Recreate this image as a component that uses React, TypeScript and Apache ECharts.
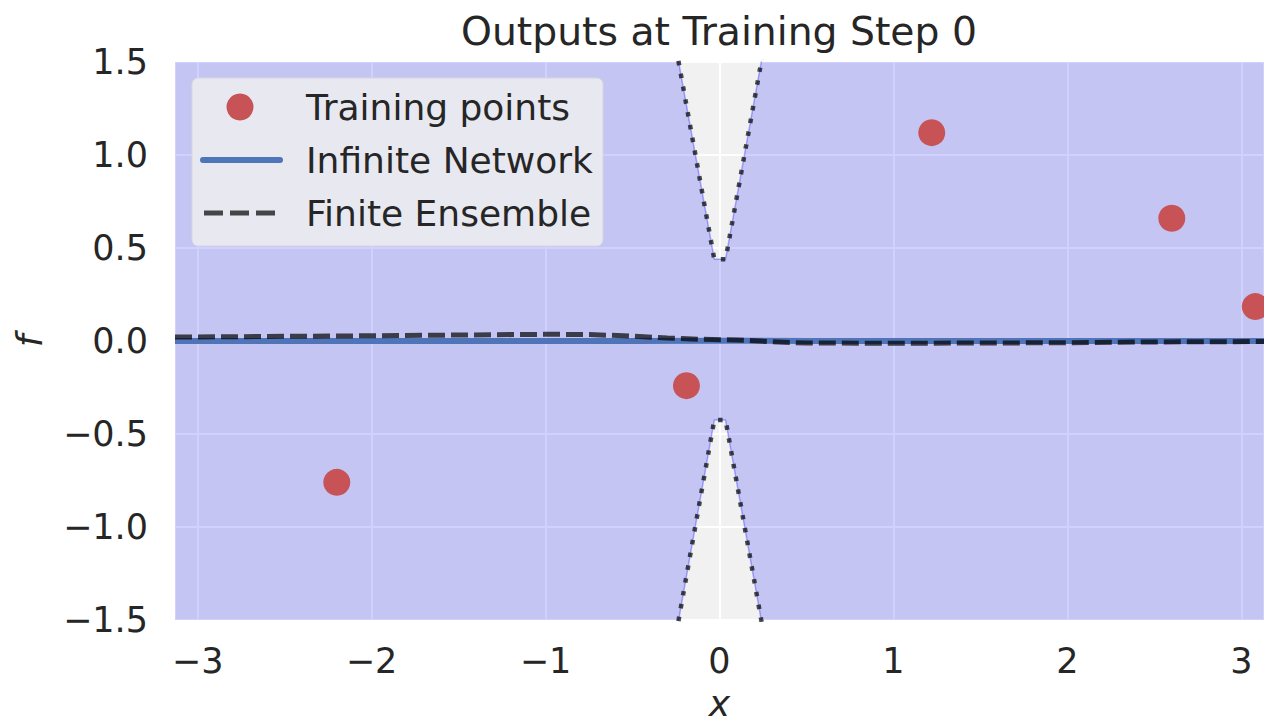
import React, { useEffect, useRef } from "react";
import * as echarts from "echarts";

// Training data
const trainX = [-2.2, -0.19, 1.22, 2.6, 3.08];
const trainY = [-0.76, -0.24, 1.12, 0.66, 0.185];

// Infinite-width network mean prediction
const infX = [-3.13, -2.5, -2.0, -1.5, -1.0, -0.5, 0.0, 0.5, 1.0, 1.5, 2.0, 2.5, 3.13];
const infY = [0.0, 0.0, 0.0, 0.0, 0.0, 0.0, 0.002, 0.0, 0.0, 0.0, 0.0, 0.0, 0.0];

// Finite ensemble mean prediction
const ensX = [-3.13, -2.5, -2.0, -1.5, -1.0, -0.75, -0.5, -0.3, -0.1, 0.1, 0.3, 0.5, 1.0, 1.5, 2.0, 2.5, 3.13];
const ensY = [0.021, 0.025, 0.028, 0.032, 0.036, 0.035, 0.026, 0.016, 0.009, 0.006, -0.004, -0.011, -0.012, -0.011, -0.009, -0.005, -0.003];

// Uncertainty band (mean ± 2σ)
const bandX = [-3.13, -1.5, -0.5, -0.235, -0.03, 0.035, 0.24, 0.5, 1.5, 3.13];
const bandUpper = [16.5, 8.1, 2.9, 1.5, 0.44, 0.44, 1.5, 2.8, 8.0, 16.5];
const bandLower = [-16.5, -8.1, -2.9, -1.5, -0.425, -0.425, -1.5, -2.8, -8.0, -16.5];

// Axis ticks
const yTicks = { min: -1.5, max: 1.5, step: 0.5 };
const xRange = { min: -3.13, max: 3.13 };

const FONT = "DejaVu Sans";
const TEXT = "#262626";
const RED = "#c75357";
const BLUE = "#5074b8";
const DARK = "rgba(0,0,0,0.7)";

const fmtMinus = (s: string) => s.replace("-", "\u2212");

export default function App() {
  const ref = useRef<HTMLDivElement>(null);

  useEffect(() => {
    if (!ref.current) return;
    const chart = echarts.init(ref.current, undefined, { renderer: "svg" });

    const pairs = (xs: number[], ys: number[]) => xs.map((x, i) => [x, ys[i]]);

    chart.setOption({
      animation: false,
      title: {
        text: "Outputs at Training Step 0",
        left: 714,
        textAlign: "center",
        top: 7,
        textStyle: { fontFamily: FONT, fontSize: 39.3, fontWeight: "normal", color: TEXT },
      },
      grid: {
        left: 175,
        top: 62,
        width: 1089,
        height: 558,
        outerBoundsMode: "none",
        containLabel: false,
        show: true,
        backgroundColor: "#f1f1f1",
        borderWidth: 0,
      },
      xAxis: {
        type: "value",
        min: xRange.min,
        max: xRange.max,
        splitNumber: 6,
        name: "x",
        nameLocation: "middle",
        nameGap: 70,
        nameTextStyle: { fontFamily: FONT, fontSize: 36, lineHeight: 26, fontStyle: "italic", color: TEXT },
        axisLine: { show: false },
        axisTick: { show: false },
        axisLabel: {
          fontFamily: FONT,
          fontSize: 35,
          color: TEXT,
          margin: 23,
          showMinLabel: false,
          showMaxLabel: false,
          formatter: (v: number) => (Number.isInteger(v) ? fmtMinus(String(v)) : ""),
        },
        splitLine: { show: true, lineStyle: { color: "#ffffff", width: 2 } },
      },
      yAxis: {
        type: "value",
        min: yTicks.min,
        max: yTicks.max,
        interval: yTicks.step,
        name: "f",
        nameLocation: "middle",
        nameGap: 128,
        nameRotate: 90,
        nameTextStyle: { fontFamily: FONT, fontSize: 36, fontStyle: "italic", color: TEXT },
        axisLine: { show: false },
        axisTick: { show: false },
        axisLabel: {
          fontFamily: FONT,
          fontSize: 35,
          color: TEXT,
          margin: 27,
          formatter: (v: number) => fmtMinus(v.toFixed(1)),
        },
        splitLine: { show: true, lineStyle: { color: "#ffffff", width: 2 } },
      },
      series: [
        {
          type: "custom",
          name: "band",
          silent: true,
          data: [[0, 0]],
          z: 1,
          renderItem: (params: any, api: any) => {
            const pts: number[][] = [];
            for (let i = 0; i < bandX.length; i++) pts.push(api.coord([bandX[i], bandUpper[i]]));
            for (let i = bandX.length - 1; i >= 0; i--) pts.push(api.coord([bandX[i], bandLower[i]]));
            const cs = params.coordSys;
            const clipped = echarts.graphic.clipPointsByRect(pts, {
              x: cs.x,
              y: cs.y,
              width: cs.width,
              height: cs.height,
            });
            return {
              type: "polygon",
              shape: { points: clipped },
              style: { fill: "rgba(0,0,255,0.18)" },
            };
          },
        },
        {
          type: "line",
          name: "upper edge",
          data: pairs(bandX, bandUpper),
          symbol: "none",
          silent: true,
          z: 2,
          lineStyle: { color: "rgba(0,0,255,0.3)", width: 1.5 },
        },
        {
          type: "line",
          name: "lower edge",
          data: pairs(bandX, bandLower),
          symbol: "none",
          silent: true,
          z: 2,
          lineStyle: { color: "rgba(0,0,255,0.3)", width: 1.5 },
        },
        {
          type: "line",
          name: "Infinite Network",
          data: pairs(infX, infY),
          symbol: "none",
          z: 3,
          lineStyle: { color: BLUE, width: 6 },
        },
        {
          type: "line",
          name: "Finite Ensemble",
          data: pairs(ensX, ensY),
          symbol: "none",
          z: 4,
          lineStyle: { color: DARK, width: 5, type: [17, 6] },
        },
        {
          type: "line",
          name: "ensemble upper",
          data: pairs(bandX, bandUpper),
          symbol: "none",
          z: 4,
          lineStyle: { color: DARK, width: 4.5, type: [4.5, 8.5] },
        },
        {
          type: "line",
          name: "ensemble lower",
          data: pairs(bandX, bandLower),
          symbol: "none",
          z: 4,
          lineStyle: { color: DARK, width: 4.5, type: [4.5, 8.5] },
        },
        {
          type: "scatter",
          name: "Training points",
          data: pairs(trainX, trainY),
          symbol: "circle",
          symbolSize: 27,
          z: 5,
          itemStyle: { color: RED, opacity: 1 },
        },
      ],
      graphic: [
        {
          type: "rect",
          z: 100,
          shape: { x: 192, y: 78, width: 411, height: 168, r: 6 },
          style: { fill: "#e8e8f0", stroke: "#d6d6e2", lineWidth: 1 },
        },
        {
          type: "circle",
          z: 101,
          shape: { cx: 240, cy: 107, r: 13.5 },
          style: { fill: RED },
        },
        {
          type: "line",
          z: 101,
          shape: { x1: 203, y1: 160, x2: 280, y2: 160 },
          style: { stroke: BLUE, lineWidth: 6, lineCap: "round" },
        },
        {
          type: "line",
          z: 101,
          shape: { x1: 204, y1: 213, x2: 277, y2: 213 },
          style: { stroke: DARK, lineWidth: 5, lineDash: [19, 7] },
        },
        {
          type: "text",
          z: 101,
          x: 306,
          y: 107,
          style: { text: "Training points", font: `36px "${FONT}"`, fill: TEXT, verticalAlign: "middle" },
        },
        {
          type: "text",
          z: 101,
          x: 306,
          y: 160,
          style: { text: "Infinite Network", font: `36px "${FONT}"`, fill: TEXT, verticalAlign: "middle" },
        },
        {
          type: "text",
          z: 101,
          x: 306,
          y: 213,
          style: { text: "Finite Ensemble", font: `36px "${FONT}"`, fill: TEXT, verticalAlign: "middle" },
        },
      ],
    });

    return () => chart.dispose();
  }, []);

  return (
    <div
      ref={ref}
      style={{ position: "absolute", left: 0, top: 0, width: 1264, height: 722, background: "#ffffff" }}
    />
  );
}
